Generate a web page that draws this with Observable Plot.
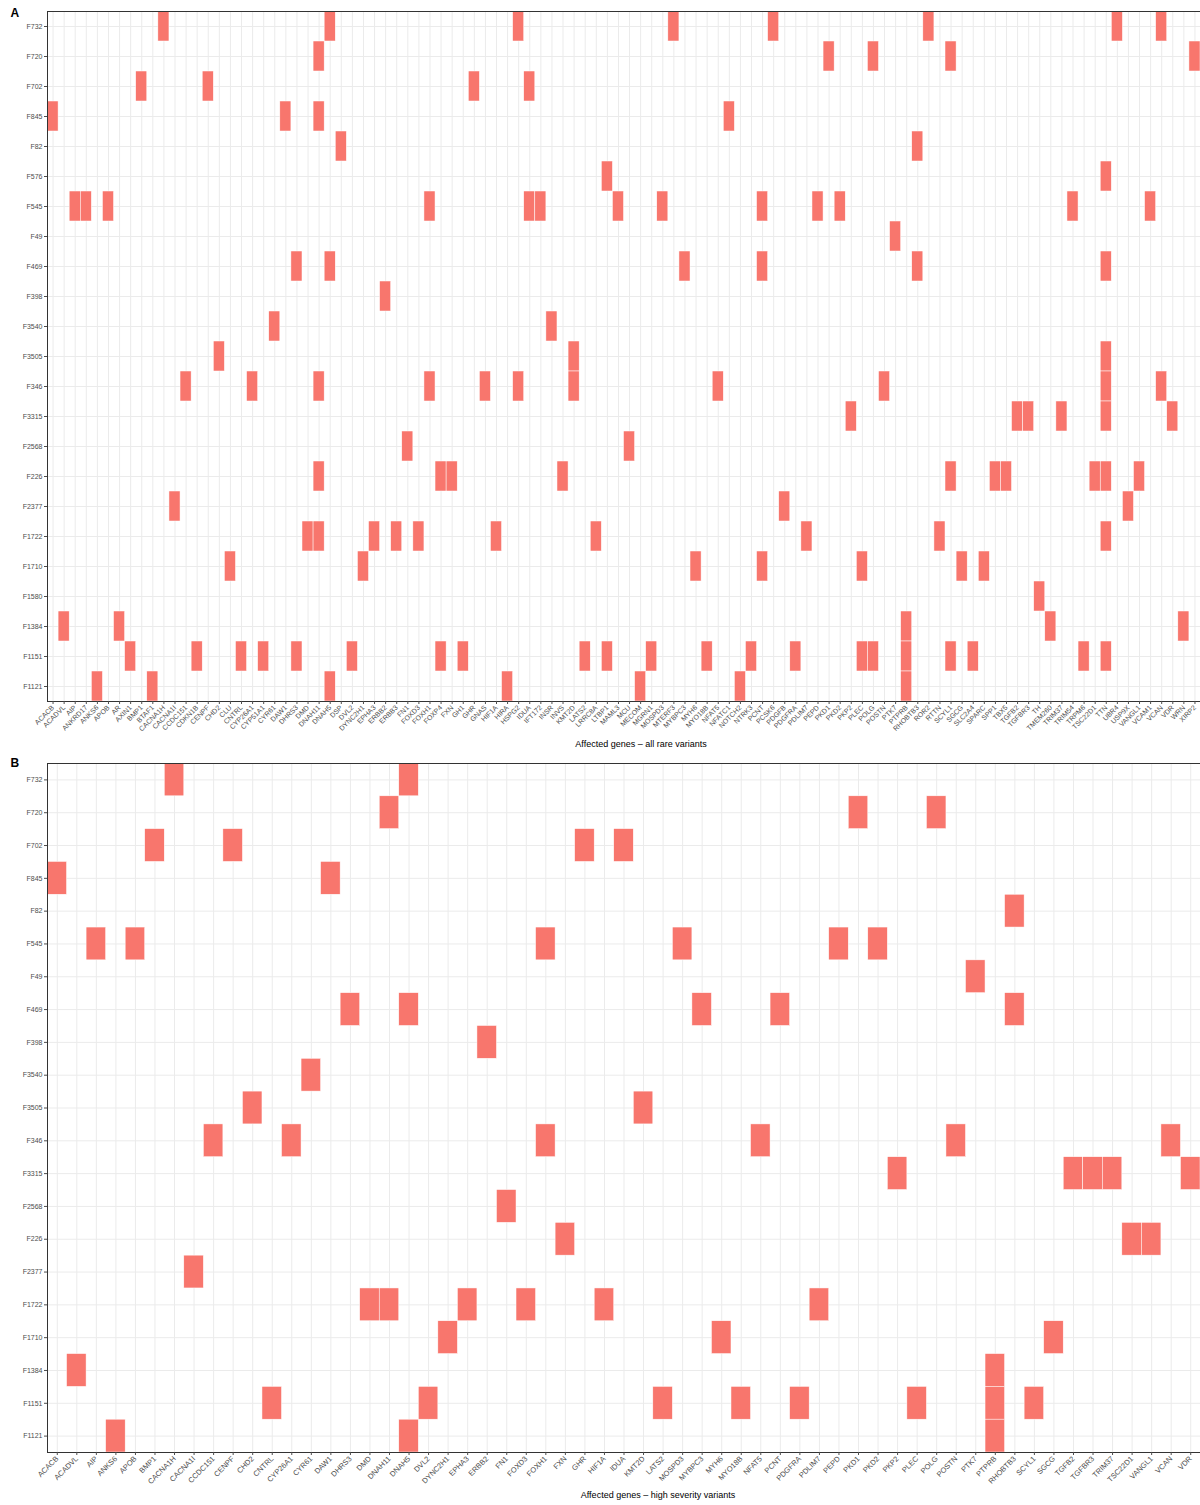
<!DOCTYPE html>
<html>
<head>
<meta charset="utf-8">
<script src="https://cdn.jsdelivr.net/npm/d3@7"></script>
<script src="https://cdn.jsdelivr.net/npm/@observablehq/plot@0.6"></script>
<style>
  html, body { margin: 0; padding: 0; background: #fff; }
  #chart svg { display: block; }
</style>
</head>
<body>
<div id="chart"></div>
<script>
const genesAll = ["ACACB","ACADVL","AIP","ANKRD17","ANKS6","APOB","AR","AXIN1","BMP1","BTAF1",
  "CACNA1H","CACNA1I","CCDC151","CDKN1B","CENPF","CHD2","CLU","CNTRL","CYP26A1","CYP51A1",
  "CYR61","DAW1","DHRS3","DMD","DNAH11","DNAH5","DSP","DVL2","DYNC2H1","EPHA3",
  "ERBB2","ERBB3","FN1","FOXD3","FOXH1","FOXP4","FXN","GH1","GHR","GNAS",
  "HIF1A","HIRA","HSPG2","IDUA","IFT172","INSR","INVS","KMT2D","LATS2","LRRC8A",
  "LTBP1","MAML3","MCU","MECOM","MGRN1","MOSPD3","MTERF3","MYBPC3","MYH6","MYO18B",
  "NFAT5","NFATC1","NOTCH2","NTRK3","PCNT","PCSK6","PDGFB","PDGFRA","PDLIM7","PEPD",
  "PKD1","PKD2","PKP2","PLEC","POLG","POSTN","PTK7","PTPRB","RHOBTB3","ROR2",
  "RTTN","SCYL1","SGCG","SLC2A4","SPARC","SPP1","TBX5","TGFB2","TGFBR3","TH",
  "TMEM260","TRIM37","TRIM54","TRPM6","TSC22D1","TTN","UBR4","USP9X","VANGL1","VCAM1",
  "VCAN","VDR","WRN","XIRP2"];

const genesHigh = ["ACACB","ACADVL","AIP","ANKS6","APOB","BMP1","CACNA1H","CACNA1I","CCDC151","CENPF",
  "CHD2","CNTRL","CYP26A1","CYR61","DAW1","DHRS3","DMD","DNAH11","DNAH5","DVL2",
  "DYNC2H1","EPHA3","ERBB2","FN1","FOXD3","FOXH1","FXN","GHR","HIF1A","IDUA",
  "KMT2D","LATS2","MOSPD3","MYBPC3","MYH6","MYO18B","NFAT5","PCNT","PDGFRA","PDLIM7",
  "PEPD","PKD1","PKD2","PKP2","PLEC","POLG","POSTN","PTK7","PTPRB","RHOBTB3",
  "SCYL1","SGCG","TGFB2","TGFBR3","TRIM37","TSC22D1","VANGL1","VCAN","VDR"];

const familiesAll = ["F732","F720","F702","F845","F82","F576","F545","F49","F469","F398","F3540","F3505",
  "F346","F3315","F2568","F226","F2377","F1722","F1710","F1580","F1384","F1151","F1121"];

const familiesHigh = ["F732","F720","F702","F845","F82","F545","F49","F469","F398","F3540","F3505",
  "F346","F3315","F2568","F226","F2377","F1722","F1710","F1384","F1151","F1121"];

const hitsAll = [
  ["F732", ["CACNA1H","DNAH5","HSPG2","MTERF3","PCSK6","ROR2","UBR4","VCAN"]],
  ["F720", ["DNAH11","PKD1","POLG","SCYL1","XIRP2"]],
  ["F702", ["BMP1","CENPF","GHR","IDUA"]],
  ["F845", ["ACACB","DAW1","DNAH11","NFATC1"]],
  ["F82", ["DSP","RHOBTB3"]],
  ["F576", ["LTBP1","TTN"]],
  ["F545", ["AIP","ANKRD17","APOB","FOXH1","IDUA","IFT172","MAML3","MOSPD3","PCNT","PEPD","PKD2","TRIM54","VCAM1"]],
  ["F49", ["PTK7"]],
  ["F469", ["DHRS3","DNAH5","MYBPC3","PCNT","RHOBTB3","TTN"]],
  ["F398", ["ERBB2"]],
  ["F3540", ["CYR61","INSR"]],
  ["F3505", ["CHD2","KMT2D","TTN"]],
  ["F346", ["CCDC151","CYP26A1","DNAH11","FOXH1","GNAS","HSPG2","KMT2D","NFAT5","POSTN","TTN","VCAN"]],
  ["F3315", ["PKP2","TGFB2","TGFBR3","TRIM37","TTN","VDR"]],
  ["F2568", ["FN1","MCU"]],
  ["F226", ["DNAH11","FOXP4","FXN","INVS","SCYL1","SPP1","TBX5","TSC22D1","TTN","VANGL1"]],
  ["F2377", ["CACNA1I","PDGFB","USP9X"]],
  ["F1722", ["DMD","DNAH11","EPHA3","ERBB3","FOXD3","HIF1A","LRRC8A","PDLIM7","RTTN","TTN"]],
  ["F1710", ["CLU","DYNC2H1","MYH6","PCNT","PLEC","SGCG","SPARC"]],
  ["F1580", ["TH"]],
  ["F1384", ["ACADVL","AR","PTPRB","TMEM260","WRN"]],
  ["F1151", ["AXIN1","CDKN1B","CNTRL","CYP51A1","DHRS3","DVL2","FOXP4","GH1","LATS2","LTBP1","MGRN1","MYO18B","NTRK3","PDGFRA","PLEC","POLG","PTPRB","SCYL1","SLC2A4","TRPM6","TTN"]],
  ["F1121", ["ANKS6","BTAF1","DNAH5","HIRA","MECOM","NOTCH2","PTPRB"]]
];

const hitsHigh = [
  ["F732", ["CACNA1H","DNAH5"]],
  ["F720", ["DNAH11","PKD1","POLG"]],
  ["F702", ["BMP1","CENPF","GHR","IDUA"]],
  ["F845", ["ACACB","DAW1"]],
  ["F82", ["RHOBTB3"]],
  ["F545", ["AIP","APOB","FOXH1","MOSPD3","PEPD","PKD2"]],
  ["F49", ["PTK7"]],
  ["F469", ["DHRS3","DNAH5","MYBPC3","PCNT","RHOBTB3"]],
  ["F398", ["ERBB2"]],
  ["F3540", ["CYR61"]],
  ["F3505", ["CHD2","KMT2D"]],
  ["F346", ["CCDC151","CYP26A1","FOXH1","NFAT5","POSTN","VCAN"]],
  ["F3315", ["PKP2","TGFB2","TGFBR3","TRIM37","VDR"]],
  ["F2568", ["FN1"]],
  ["F226", ["FXN","TSC22D1","VANGL1"]],
  ["F2377", ["CACNA1I"]],
  ["F1722", ["DMD","DNAH11","EPHA3","FOXD3","HIF1A","PDLIM7"]],
  ["F1710", ["DYNC2H1","MYH6","SGCG"]],
  ["F1384", ["ACADVL","PTPRB"]],
  ["F1151", ["CNTRL","DVL2","LATS2","MYO18B","PDGFRA","PLEC","PTPRB","SCYL1"]],
  ["F1121", ["ANKS6","DNAH5","PTPRB"]]
];

const panelLetters = ["A", "B"];
const axisTitles = ["Affected genes \u2013 all rare variants", "Affected genes \u2013 high severity variants"];

function flatten(hits) {
  const out = [];
  for (const [family, genes] of hits) for (const gene of genes) out.push({family, gene});
  return out;
}

function panel({genes, families, hits, letter, title, height, marginTop, marginBottom, tickFont, titleDx, letterDy}) {
  return Plot.plot({
    width: 1200,
    height,
    marginLeft: 47,
    marginRight: 0,
    marginTop,
    marginBottom,
    style: {fontFamily: "'Liberation Sans', Arial, sans-serif", background: "#fff", overflow: "visible"},
    x: {domain: genes, padding: 0, round: false, label: null},
    y: {domain: families, padding: 0, round: false, label: null},
    marks: [
      Plot.gridX({stroke: "#ebebeb", strokeOpacity: 1, strokeWidth: 1}),
      Plot.gridY({stroke: "#ebebeb", strokeOpacity: 1, strokeWidth: 1}),
      Plot.cell(flatten(hits), {x: "gene", y: "family", fill: "#F8766D", stroke: "#fff", strokeWidth: 0.5, inset: 0}),
      Plot.frame({stroke: "#333", strokeWidth: 1}),
      Plot.axisX({tickRotate: -45, tickSize: 3, tickPadding: 2, fontSize: tickFont, color: "#4d4d4d", label: null}),
      Plot.axisY({tickSize: 3, tickPadding: 2, fontSize: 7, color: "#4d4d4d", label: null}),
      Plot.text([title], {frameAnchor: "bottom", dy: 45, dx: titleDx, fontSize: 9, fill: "#000"}),
      Plot.text([letter], {frameAnchor: "top-left", dx: -37, dy: letterDy, fontSize: 12, fontWeight: "bold", fill: "#000"})
    ]
  });
}

const chart = document.getElementById("chart");
chart.append(panel({
  genes: genesAll, families: familiesAll, hits: hitsAll, letter: panelLetters[0], title: axisTitles[0],
  height: 755, marginTop: 11, marginBottom: 54, tickFont: 7, titleDx: 17, letterDy: -3
}));
chart.append(panel({
  genes: genesHigh, families: familiesHigh, hits: hitsHigh, letter: panelLetters[1], title: axisTitles[1],
  height: 750, marginTop: 8, marginBottom: 53, tickFont: 7.5, titleDx: 34, letterDy: -5
}));
</script>
</body>
</html>
